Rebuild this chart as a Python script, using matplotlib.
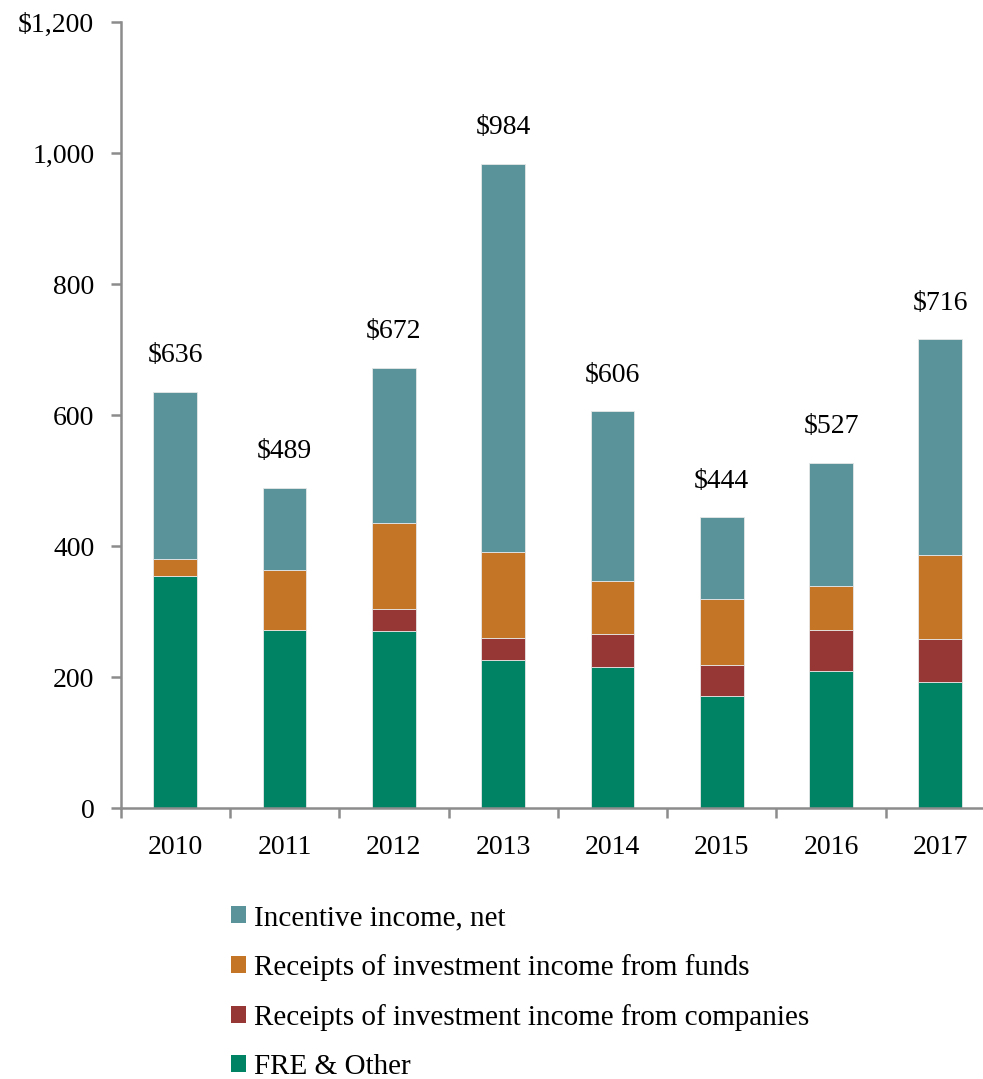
import numpy as np
import matplotlib
matplotlib.use("Agg")
import matplotlib.pyplot as plt
from matplotlib.patches import Patch

# Datos
years = ["2010", "2011", "2012", "2013", "2014", "2015", "2016", "2017"]
fre_other = [354, 272, 270, 226, 216, 172, 209, 192]
inc_companies = [0, 0, 34, 34, 50, 47, 63, 67]
inc_funds = [26, 92, 131, 131, 81, 101, 68, 128]
incentive = [256, 125, 237, 593, 259, 124, 187, 329]
totals = [636, 489, 672, 984, 606, 444, 527, 716]
y_ticks = [0, 200, 400, 600, 800, 1000, 1200]
y_tick_labels = ["0", "200", "400", "600", "800", "1,000", "$1,200"]

labels = ["FRE & Other", "Receipts of investment income from companies",
          "Receipts of investment income from funds", "Incentive income, net"]
colors = ["#008264", "#963735", "#C47526", "#5A939A"]

plt.rcParams['font.family'] = ['Liberation Serif', 'DejaVu Serif']

fig = plt.figure(figsize=(9.83, 10.79), dpi=100)
ax = fig.add_axes([0.1228, 0.2509, 0.8894, 0.7287])

x = np.arange(len(years))
bottom = np.zeros(len(years))
handles = []
for serie, lab, col in zip([fre_other, inc_companies, inc_funds, incentive], labels, colors):
    vals = np.array(serie, dtype=float)
    ax.bar(x, vals, bottom=bottom, width=0.4, color=col, edgecolor="#e6e6e6", linewidth=0.6)
    bottom += vals
    handles.append(Patch(facecolor=col, edgecolor="none", label=lab))

# Etiquetas de totales
for xi, tot in zip(x, totals):
    ax.annotate(f"${tot}", (xi, tot), xytext=(0, 26), textcoords="offset points",
                ha="center", va="center", fontsize=20)

ax.set_xlim(-0.5, len(years) - 0.5)
ax.set_ylim(0, 1200)
ax.set_yticks(y_ticks)
ax.set_yticklabels(y_tick_labels)
ax.set_xticks(x)
ax.set_xticklabels(years)
ax.set_xticks(np.arange(-0.5, len(years) + 0.5, 1), minor=True)
ax.tick_params(axis="x", which="major", length=0, labelsize=20, pad=19)
ax.tick_params(axis="x", which="minor", length=7, width=1.8, color="#8c8c8c", direction="out")
ax.tick_params(axis="y", length=7, width=1.8, color="#8c8c8c", labelsize=20, pad=12)

for s in ["top", "right"]:
    ax.spines[s].set_visible(False)
for s in ["left", "bottom"]:
    ax.spines[s].set_color("#8c8c8c")
    ax.spines[s].set_linewidth(1.8)

leg = fig.legend(handles=handles[::-1], loc="upper left", bbox_to_anchor=(0.235, 0.1612),
                 frameon=False, fontsize=21, handlelength=0.5, handleheight=0.5,
                 handletextpad=0.3, labelspacing=0.79, borderaxespad=0, borderpad=0)

plt.savefig("out.png", dpi=100)
